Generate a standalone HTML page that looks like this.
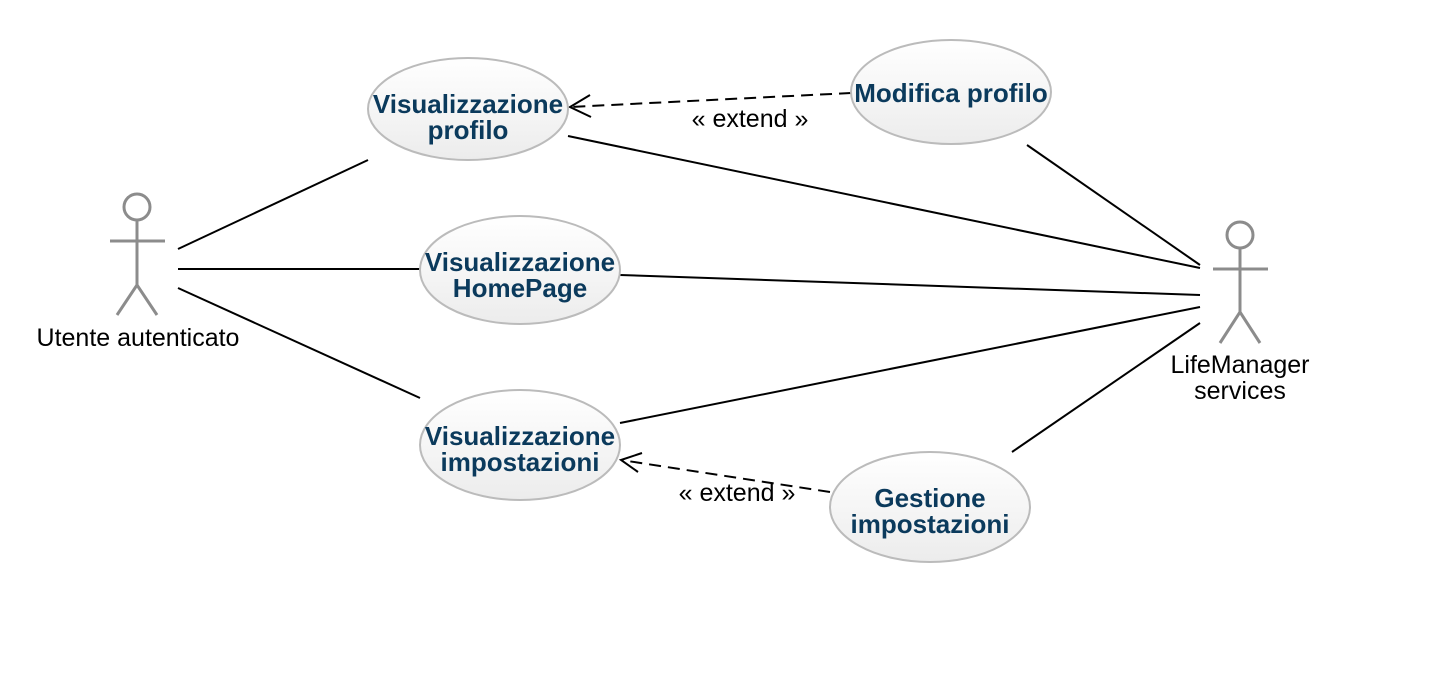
<!DOCTYPE html>
<html><head><meta charset="utf-8"><style>
html,body{margin:0;padding:0;background:#fff;}
svg{display:block}
.t{font-family:"Liberation Sans",Arial,sans-serif;font-weight:bold;font-size:26px;fill:#0b3a5c;text-anchor:middle}
.l{font-family:"Liberation Sans",Arial,sans-serif;font-size:25px;fill:#000;text-anchor:middle}
</style></head><body>
<svg width="1440" height="696" viewBox="0 0 1440 696" xmlns="http://www.w3.org/2000/svg">
<defs>
<linearGradient id="g" x1="0" y1="0" x2="0" y2="1">
<stop offset="0" stop-color="#ffffff"/><stop offset="1" stop-color="#ececec"/>
</linearGradient>
</defs>
<g stroke="#000" stroke-width="2" fill="none">
<line x1="178" y1="249" x2="368" y2="160"/>
<line x1="178" y1="269" x2="420" y2="269"/>
<line x1="178" y1="288" x2="420" y2="398"/>
<line x1="568" y1="136" x2="1200" y2="268"/>
<line x1="620" y1="275" x2="1200" y2="295"/>
<line x1="620" y1="423" x2="1200" y2="307"/>
<line x1="1027" y1="145" x2="1200" y2="265"/>
<line x1="1012" y1="452" x2="1200" y2="323"/>
<line x1="851" y1="93" x2="570" y2="107" stroke-dasharray="12,7"/>
<polyline points="590,95 570,107 591,117"/>
<line x1="830" y1="492" x2="621" y2="460" stroke-dasharray="12,7"/>
<polyline points="642,453 621,460 638,472"/>
</g>
<g fill="url(#g)" stroke="#bbb" stroke-width="2">
<ellipse cx="468" cy="109" rx="100" ry="51"/>
<ellipse cx="951" cy="92" rx="100" ry="52"/>
<ellipse cx="520" cy="270" rx="100" ry="54"/>
<ellipse cx="520" cy="445" rx="100" ry="55"/>
<ellipse cx="930" cy="507" rx="100" ry="55"/>
</g>
<text class="t" x="468" y="113">Visualizzazione</text>
<text class="t" x="468" y="139">profilo</text>
<text class="t" x="951" y="102">Modifica profilo</text>
<text class="t" x="520" y="271">Visualizzazione</text>
<text class="t" x="520" y="297">HomePage</text>
<text class="t" x="520" y="445">Visualizzazione</text>
<text class="t" x="520" y="471">impostazioni</text>
<text class="t" x="930" y="507">Gestione</text>
<text class="t" x="930" y="533">impostazioni</text>
<text class="l" x="750" y="127">« extend »</text>
<text class="l" x="737" y="501">« extend »</text>
<g stroke="#8c8c8c" stroke-width="3" fill="none">
<circle cx="137" cy="207" r="13"/>
<line x1="137" y1="220" x2="137" y2="285"/>
<line x1="110" y1="241" x2="165" y2="241"/>
<polyline points="117,315 137,285 157,315"/>
<circle cx="1240" cy="235" r="13"/>
<line x1="1240" y1="248" x2="1240" y2="312"/>
<line x1="1213" y1="269" x2="1268" y2="269"/>
<polyline points="1220,343 1240,312 1260,343"/>
</g>
<text class="l" x="138" y="346">Utente autenticato</text>
<text class="l" x="1240" y="373">LifeManager</text>
<text class="l" x="1240" y="399">services</text>
</svg>
</body></html>
